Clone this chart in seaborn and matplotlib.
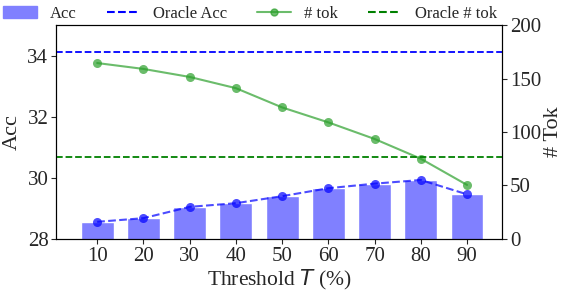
import numpy as np
import pandas as pd
import matplotlib
matplotlib.use("Agg")
import matplotlib.pyplot as plt
import seaborn as sns
from matplotlib.lines import Line2D
from matplotlib.patches import Patch

# data
thresholds = [10, 20, 30, 40, 50, 60, 70, 80, 90]
acc = [28.56, 28.68, 29.05, 29.17, 29.40, 29.66, 29.81, 29.93, 29.46]
tokens = [164.5, 159.0, 151.5, 141.0, 123.0, 109.0, 93.5, 75.0, 50.5]
oracle_acc = 34.12
oracle_tok = 77.0

sns.set_style("ticks")
plt.rcParams["font.family"] = ["Liberation Serif", "DejaVu Serif"]
plt.rcParams["mathtext.fontset"] = "dejavusans"

df = pd.DataFrame({"threshold": thresholds, "acc": acc, "tok": tokens})

fig = plt.figure(figsize=(5.63, 2.95), dpi=100)
ax = fig.add_axes([0.0995, 0.19, 0.7925, 0.725])

# accuracy bars + dashed line
sns.barplot(data=df, x="threshold", y="acc", native_scale=True, width=0.71,
            color="#8080ff", saturation=1, ax=ax, zorder=2)
sns.lineplot(data=df, x="threshold", y="acc", color="blue", alpha=0.7,
             linestyle="--", marker="o", markersize=6.5, markeredgewidth=0,
             ax=ax, zorder=3)
ax.axhline(oracle_acc, color="blue", linestyle="--", lw=1.3)

ax.set_ylim(28, 35)
ax.set_yticks([28, 30, 32, 34])
ax.set_xlim(1.1, 97.6)
ax.set_xticks(thresholds)
ax.set_xticklabels([str(t) for t in thresholds])
ax.set_xlabel("Threshold $T$ (%)", fontsize=15.5, labelpad=2)
ax.set_ylabel("Acc", fontsize=16, labelpad=4)
ax.tick_params(labelsize=15, pad=2)

# token count on the right axis
ax2 = ax.twinx()
sns.lineplot(data=df, x="threshold", y="tok", color="#2ca02c", alpha=0.7,
             marker="o", markersize=6.5, markeredgewidth=0, ax=ax2)
ax2.axhline(oracle_tok, color="green", linestyle="--", lw=1.3)
ax2.set_ylim(0, 200)
ax2.set_yticks([0, 50, 100, 150, 200])
ax2.set_ylabel("# Tok", fontsize=16, labelpad=2)
ax2.tick_params(labelsize=15, pad=2)
ax2.set_xlim(1.1, 97.6)

for a in (ax, ax2):
    for s in a.spines.values():
        s.set_visible(True)
        s.set_color("black")

handles = [
    Patch(color="#8080ff", label="Acc"),
    Line2D([], [], color="blue", linestyle="--", label="Oracle Acc"),
    Line2D([], [], color="#2ca02c", alpha=0.7, marker="o", markersize=5, label="# tok"),
    Line2D([], [], color="green", linestyle="--", label="Oracle # tok"),
]
fig.legend(handles=handles, loc="upper center", bbox_to_anchor=(0.444, 1.03),
           ncol=4, frameon=False, fontsize=12, handlelength=2.0,
           columnspacing=1.8, handletextpad=0.8)

fig.savefig("out.png", dpi=100)
